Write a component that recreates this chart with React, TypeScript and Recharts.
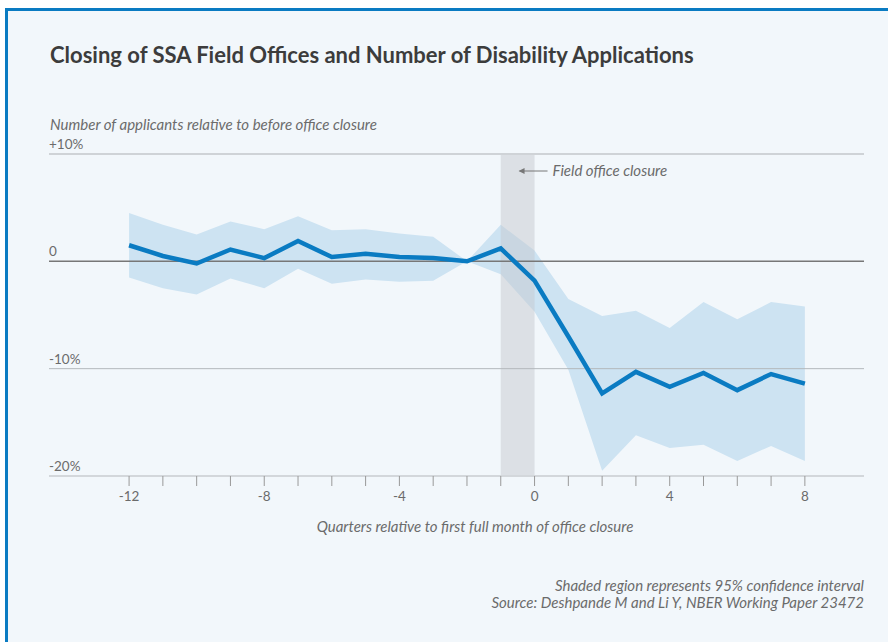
import React from 'react'
import { Area, ComposedChart, Line, ReferenceArea, ReferenceLine, XAxis, YAxis } from 'recharts'

const quarters = [-12, -11, -10, -9, -8, -7, -6, -5, -4, -3, -2, -1, 0, 1, 2, 3, 4, 5, 6, 7, 8]
const estimate = [1.5, 0.5, -0.2, 1.1, 0.3, 1.9, 0.4, 0.7, 0.4, 0.3, 0, 1.2, -1.8, -7.0, -12.3, -10.3, -11.7, -10.4, -12.0, -10.5, -11.4]
const upper = [4.5, 3.4, 2.5, 3.7, 3.0, 4.2, 2.9, 3.0, 2.6, 2.3, 0, 3.4, 1.0, -3.5, -5.1, -4.6, -6.2, -3.8, -5.4, -3.8, -4.2]
const lower = [-1.5, -2.5, -3.1, -1.6, -2.5, -0.7, -2.1, -1.7, -1.9, -1.8, 0, -1.2, -4.7, -10.1, -19.5, -16.2, -17.4, -17.1, -18.6, -17.2, -18.6]
const yLabels = ['+10%', '0', '-10%', '-20%']

const data = quarters.map((q, i) => ({ q, est: estimate[i], band: [lower[i], upper[i]] }))

const FONT = 'Lato, sans-serif'
const GREY = '#6b6b6b'

const YLabel = (text: string) => (props: any) => {
  const vb = props.viewBox
  return (
    <text x={vb.x} y={vb.y - 5} fill={GREY} fontSize={13.5} fontFamily={FONT}>{text}</text>
  )
}

const ClosureLabel = (props: any) => {
  const vb = props.viewBox
  const y = vb.y + 17
  const x0 = vb.x + vb.width
  return (
    <g>
      <line x1={x0 - 15} y1={y} x2={x0 + 13} y2={y} stroke='#777' strokeWidth={1} />
      <path d={`M${x0 - 16},${y} l6,-3 l0,6 z`} fill='#777' />
      <text x={x0 + 18} y={y + 5} fill={GREY} fontSize={15} fontStyle='italic' fontFamily={FONT}>Field office closure</text>
    </g>
  )
}

export default function App() {
  return (
    <div style={{ position: 'absolute', left: 0, top: 0, width: 888, height: 642, background: '#fff', overflow: 'hidden', fontFamily: FONT }}>
      <div style={{ position: 'absolute', left: 5, top: 8, width: 900, height: 650, background: '#f2f7fb', borderTop: '3px solid #0a7bc2', borderLeft: '3px solid #0a7bc2', boxSizing: 'border-box' }} />
      <div style={{ position: 'absolute', left: 50, top: 43.5, fontSize: 22, lineHeight: '22px', fontWeight: 700, color: '#3c3c3c', whiteSpace: 'nowrap' }}>
        Closing of SSA Field Offices and Number of Disability Applications
      </div>
      <div style={{ position: 'absolute', left: 50, top: 116.5, fontSize: 15, lineHeight: '15px', fontStyle: 'italic', color: GREY, whiteSpace: 'nowrap' }}>
        Number of applicants relative to before office closure
      </div>
      <div style={{ position: 'absolute', left: 0, top: 0 }}>
        <ComposedChart width={888} height={642} data={data} margin={{ top: 154, right: 24, left: 49, bottom: 136 }}>
          <XAxis type='number' dataKey='q' domain={[-14.37, 9.75]} ticks={quarters} interval={0}
            tickFormatter={(v: number) => (v % 4 === 0 ? String(v) : '')}
            axisLine={{ stroke: '#d3d7db', strokeWidth: 2 }} tickLine={{ stroke: '#999' }} tickSize={10} tickMargin={5}
            tick={{ fill: GREY, fontSize: 13.5, fontFamily: FONT }} height={30} allowDataOverflow />
          <YAxis hide domain={[-20, 10]} type='number' allowDataOverflow />
          <ReferenceLine y={10} stroke='#cfd3d7' strokeWidth={2} label={YLabel(yLabels[0])} />
          <ReferenceLine y={-10} stroke='#b4b8bc' strokeWidth={1} label={YLabel(yLabels[2])} />
          <ReferenceLine y={-20} stroke='none' label={YLabel(yLabels[3])} />
          <Area dataKey='band' stroke='none' fill='#cde3f2' fillOpacity={1} isAnimationActive={false} />
          <ReferenceLine y={0} stroke='#777' strokeWidth={1.5} label={YLabel(yLabels[1])} />
          <ReferenceArea x1={-1} x2={0} y1={-20} y2={10} fill='#c5cacf' fillOpacity={0.5} label={ClosureLabel} />
          <Line dataKey='est' stroke='#0a7bc2' strokeWidth={4.5} dot={false} activeDot={false} isAnimationActive={false} />
        </ComposedChart>
      </div>
      <div style={{ position: 'absolute', left: 275, width: 400, top: 518.5, textAlign: 'center', fontSize: 15, lineHeight: '15px', fontStyle: 'italic', color: GREY, whiteSpace: 'nowrap' }}>
        Quarters relative to first full month of office closure
      </div>
      <div style={{ position: 'absolute', right: 24, top: 576.5, textAlign: 'right', fontSize: 15, lineHeight: '17px', fontStyle: 'italic', color: GREY, whiteSpace: 'nowrap' }}>
        Shaded region represents 95% confidence interval<br />
        Source: Deshpande M and Li Y, NBER Working Paper 23472
      </div>
    </div>
  )
}
